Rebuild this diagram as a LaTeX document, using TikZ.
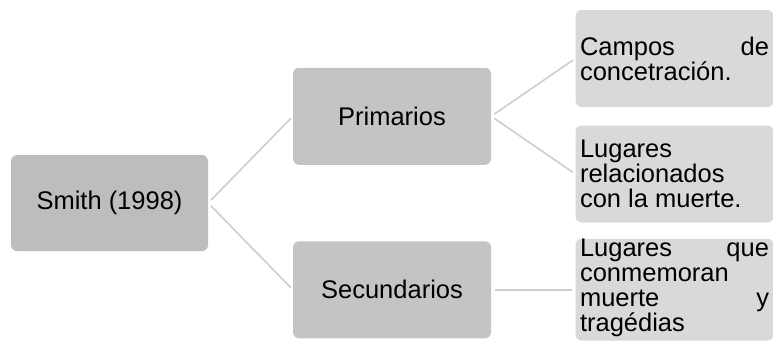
\documentclass[tikz,border=0pt]{standalone}
\usepackage{fontspec}
\setmainfont{Liberation Sans}
\definecolor{rootgray}{HTML}{BDBDBD}
\definecolor{midgray}{HTML}{C4C4C4}
\definecolor{leafgray}{HTML}{D9D9D9}
\definecolor{linkgray}{HTML}{CDCDCD}
\hyphenpenalty=10000
\tolerance=10000

\begin{document}
\begin{tikzpicture}[
  x=1pt, y=1pt,
  grow'=right,
  level distance=282.5pt,
  level 1/.style={sibling distance=173.5pt},
  level 2/.style={sibling distance=115.5pt},
  every node/.style={rounded corners=6pt, minimum width=198pt, minimum height=97pt,
    inner sep=4pt, font=\fontsize{25.5}{25}\selectfont},
  leafbox/.style={fill=leafgray, text width=189pt, inner xsep=4.5pt, inner ysep=0pt, align=justify},
  edge from parent/.style={draw=linkgray, line width=1.6pt, shorten <=4pt, shorten >=3pt},
  edge from parent path={(\tikzparentnode.east) -- (\tikzchildnode.west)}
]
\useasboundingbox (0,0) rectangle (773,-341);
\node[fill=rootgray, minimum width=197pt, minimum height=96pt] (smith) at (109.5,-203) {Smith (1998)}
  child { node[fill=midgray] (prim) {Primarios}
    child { node[leafbox] (campos) {Campos de concetración.} }
    child { node[leafbox] (lugares) {Lugares relacionados con la muerte.} }
  }
  child { node[fill=midgray] (secu) {Secundarios}
    child { node[leafbox] (conmem) {Lugares que conmemoran muerte y tragédias\vspace{4pt}} }
  };
\end{tikzpicture}
\end{document}
